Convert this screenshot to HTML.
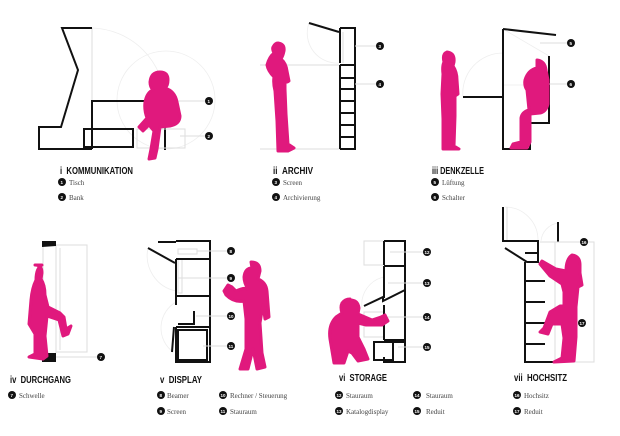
<!DOCTYPE html>
<html><head><meta charset="utf-8">
<style>
html,body{margin:0;padding:0;background:#fff;}
svg{display:block;}
.t{font-family:"Liberation Sans",sans-serif;font-weight:bold;font-size:10px;fill:#111;}
.l{font-family:"Liberation Serif",serif;font-size:7px;fill:#444;}
.n{font-family:"Liberation Sans",sans-serif;font-size:4.5px;fill:#fff;font-weight:bold;}
.k{fill:none;stroke:#111;stroke-width:2;}
.g{fill:none;stroke:#ddd;stroke-width:1;}
.gl{fill:none;stroke:#eee;stroke-width:0.8;}
.p{fill:#e0197d;stroke:#e0197d;stroke-width:3;stroke-linejoin:round;}
</style></head><body>
<svg width="620" height="436" viewBox="0 0 620 436" xmlns="http://www.w3.org/2000/svg">
<defs>
<g id="m"><circle r="4" fill="#111"/></g>
</defs>

<!-- Panel i -->
<path class="gl" d="M92,28 A75,75 0 0 1 165,101"/>
<circle class="gl" cx="166" cy="100" r="49"/>
<line class="g" x1="92" y1="28" x2="92" y2="101"/>
<path class="k" d="M92,28 L62,28 L78,70 L61,127 L39,127 L39,149 L92,149"/>
<path class="k" d="M92,149 L92,101 L165,101 L165,150"/>
<rect class="k" x="84" y="129" width="49" height="18" stroke-width="1.5"/>
<rect class="g" x="137" y="129" width="48" height="19" stroke="#ccc"/>
<line class="g" x1="165" y1="101" x2="205" y2="101"/>
<line class="g" x1="180" y1="136" x2="205" y2="136"/>
<path class="p" d="M160,72 q8,0 8,8 q0,6 -3,8 q10,3 12,14 l3,14 q0,8 -10,10 l-10,1 l-3,22 l-2,9 l-6,1 l2,-10 l3,-18 l-5,-6 l-6,6 l-4,-4 l8,-9 q-3,-8 -2,-16 q2,-10 8,-12 q-3,-3 -3,-8 q1,-10 10,-10z"/>
<use href="#m" x="209" y="101"/><text class="n" x="207.5" y="103">1</text>
<use href="#m" x="209" y="136"/><text class="n" x="207.5" y="138">2</text>
<text class="t" x="60" y="174" textLength="73" lengthAdjust="spacingAndGlyphs">i&#160;&#160;KOMMUNIKATION</text>
<use href="#m" x="62" y="182"/><text class="n" x="60.5" y="184">1</text><text class="l" x="69" y="185">Tisch</text>
<use href="#m" x="62" y="197"/><text class="n" x="60.5" y="199">2</text><text class="l" x="69" y="200">Bank</text>

<!-- Panel ii -->
<path class="gl" d="M309,23 A30,30 0 0 0 340,63"/>
<line class="g" x1="260" y1="65" x2="340" y2="65"/>
<line class="g" x1="260" y1="149" x2="340" y2="149"/>
<line class="g" x1="343" y1="32" x2="343" y2="63"/>
<path class="k" d="M309,23 L339,32 M340,28 L355,28 L355,149 L340,149 M340,28 L340,63 M340,65 L340,149"/>
<path class="k" d="M340,65 H355 M340,78 H355 M340,89 H355 M340,101 H355 M340,113 H355 M340,125 H355 M340,137 H355" stroke-width="1.5"/>
<line class="g" x1="355" y1="46" x2="376" y2="46"/>
<line class="g" x1="355" y1="84" x2="376" y2="84"/>
<path class="p" d="M278,43 q7,1 6,8 q-1,5 -3,8 q5,4 6,12 l2,10 q-2,2 -4,0 l0,8 l1,25 l2,30 l6,4 l-6,3 l-10,0 l-1,-30 l-2,-30 q-2,-8 -1,-14 q-6,-6 -7,-12 q2,-8 7,-12 q-2,-4 -1,-6 q2,-4 5,-4z"/>
<use href="#m" x="380" y="46"/><text class="n" x="378.5" y="48">3</text>
<use href="#m" x="380" y="84"/><text class="n" x="378.5" y="86">4</text>
<text class="t" x="273" y="174" textLength="40" lengthAdjust="spacingAndGlyphs">ii&#160;&#160;ARCHIV</text>
<use href="#m" x="276" y="182"/><text class="n" x="274.5" y="184">3</text><text class="l" x="283" y="185">Screen</text>
<use href="#m" x="276" y="197"/><text class="n" x="274.5" y="199">4</text><text class="l" x="283" y="200">Archivierung</text>

<!-- Panel iii -->
<path class="gl" d="M463,97 A40,40 0 0 1 503,53"/>
<path class="gl" d="M503,29 L549,56 M503,85 H549"/>
<path class="k" d="M503,29 L556,35 M503,29 L503,149 L530,149 L530,123 L549,123 L549,56 M463,97 L503,97"/>
<line class="g" x1="540" y1="43" x2="567" y2="43"/>
<line class="g" x1="549" y1="84" x2="567" y2="84"/>
<path class="p" d="M447,52 q8,1 7,10 l-1,4 q4,6 4,14 l1,14 l-3,2 l0,20 l-1,30 l5,3 l-16,0 l0,-30 l-1,-25 l1,-20 q-1,-8 1,-12 q-2,-8 3,-10z"/>
<path class="p" d="M537,60 q8,1 9,10 l2,10 l0,24 q-2,8 -8,9 l-10,1 l0,28 l-3,6 l-16,0 l2,-4 l8,-2 l0,-24 q1,-6 8,-8 l-2,-20 q-3,-4 -2,-10 q3,-10 12,-12z"/>
<use href="#m" x="571" y="43"/><text class="n" x="569.5" y="45">5</text>
<use href="#m" x="571" y="84"/><text class="n" x="569.5" y="86">6</text>
<text class="t" x="432" y="174" textLength="52" lengthAdjust="spacingAndGlyphs">iii DENKZELLE</text>
<use href="#m" x="435" y="182"/><text class="n" x="433.5" y="184">5</text><text class="l" x="442" y="185">Lüftung</text>
<use href="#m" x="435" y="197"/><text class="n" x="433.5" y="199">6</text><text class="l" x="442" y="200">Schalter</text>

<!-- Panel iv -->
<line class="g" x1="43" y1="245" x2="43" y2="353"/>
<line class="g" x1="56" y1="245" x2="56" y2="353"/>
<rect class="g" x="56" y="245" width="31" height="107"/>
<line class="g" x1="60" y1="248" x2="60" y2="350"/>
<path d="M42,241 L56,241 L56,246 L42,247z" fill="#111"/>
<rect x="42" y="353" width="14" height="9" fill="#111"/>
<line class="g" x1="56" y1="357" x2="97" y2="357"/>
<path class="p" d="M35,265 q7,0 7,8 l-1,6 q4,6 4,16 l3,12 l12,6 l4,4 l2,12 l5,-3 l-3,8 l-5,2 l-4,-16 l-12,-4 l-2,20 l2,20 l-4,3 l-14,-2 l6,-3 l0,-20 l-6,-10 l2,-24 q1,-12 5,-20 q0,-12 6,-15z"/>
<use href="#m" x="101" y="357"/><text class="n" x="99.5" y="359">7</text>
<text class="t" x="10" y="383" textLength="61" lengthAdjust="spacingAndGlyphs">iv&#160;&#160;DURCHGANG</text>
<use href="#m" x="12" y="395"/><text class="n" x="10.5" y="397">7</text><text class="l" x="19" y="398">Schwelle</text>

<!-- Panel v -->
<path class="gl" d="M148,248 A36,36 0 0 0 176,291"/>
<path class="gl" d="M176,302 A30,30 0 0 0 173,352"/>
<rect class="g" x="178" y="259" width="4" height="34"/>
<path class="k" d="M158,242 H176 M176,241 H210 V362 H176 V327 M176,259 H210 M176,296 H210 M176,327 H210 M176,259 V263 M176,263 V296 M176,296 V305 M194,311 V324 H178" stroke-width="1.6"/>
<path class="k" d="M148,248 L175,263 M174,327 L172,352 M178,330 H207 V360 H178z" stroke-width="1.5"/>
<rect class="g" x="178" y="249" width="19" height="5"/>
<line class="g" x1="197" y1="251" x2="227" y2="251"/>
<line class="g" x1="178" y1="278" x2="227" y2="278"/>
<line class="g" x1="196" y1="316" x2="227" y2="316"/>
<line class="g" x1="203" y1="346" x2="227" y2="346"/>
<path class="p" d="M251,262 q9,0 9,9 l-2,8 q8,3 9,12 l2,26 l-4,2 l-2,-14 l-3,18 l2,30 l3,14 l-8,2 l-4,-20 l-5,20 l-8,0 l6,-20 l0,-30 l-2,-18 q-10,2 -18,-6 l-2,-4 l4,-6 l4,2 l4,4 q8,-4 12,-2 q-4,-6 -4,-12 q1,-9 8,-9z"/>
<use href="#m" x="231" y="251"/><text class="n" x="229.5" y="253">8</text>
<use href="#m" x="231" y="278"/><text class="n" x="229.5" y="280">9</text>
<use href="#m" x="231" y="316"/><text class="n" x="228.5" y="318">10</text>
<use href="#m" x="231" y="346"/><text class="n" x="228.5" y="348">11</text>
<text class="t" x="160" y="383" textLength="42" lengthAdjust="spacingAndGlyphs">v&#160;&#160;DISPLAY</text>
<use href="#m" x="161" y="395"/><text class="n" x="159.5" y="397">8</text><text class="l" x="167" y="398">Beamer</text>
<use href="#m" x="161" y="411"/><text class="n" x="159.5" y="413">9</text><text class="l" x="167" y="414">Screen</text>
<use href="#m" x="223" y="395"/><text class="n" x="220.5" y="397">10</text><text class="l" x="230" y="398">Rechner / Steuerung</text>
<use href="#m" x="223" y="411"/><text class="n" x="220.5" y="413">11</text><text class="l" x="230" y="414">Stauraum</text>

<!-- Panel vi -->
<rect class="g" x="364" y="241" width="20" height="24"/>
<path class="gl" d="M362,308 A28,28 0 0 1 384,277"/>
<rect class="g" x="364" y="312" width="20" height="25"/>
<path class="k" d="M384,241 H405 V362 H384 V357 M384,241 V265 M384,266 H405 M384,266 V298 M384,305 V340 M384,340 H405" stroke-width="1.6"/>
<path class="k" d="M364,306 L383,297 L383,301 L405,290 M374,342 H393 V360 H374z M393,342 H405" stroke-width="1.4"/>
<line class="g" x1="390" y1="252" x2="423" y2="252"/>
<line class="g" x1="388" y1="283" x2="423" y2="283"/>
<line class="g" x1="388" y1="317" x2="423" y2="317"/>
<line class="g" x1="398" y1="347" x2="423" y2="347"/>
<path class="p" d="M350,300 q8,0 9,8 l-1,6 l14,6 l9,-3 l4,-2 l3,6 l-6,4 l-16,0 l-8,-2 l0,14 l6,12 l4,10 l-10,2 l-6,-8 l-4,-2 l-4,12 l-10,0 l-4,-24 q-2,-14 6,-22 l6,-4 q-2,-6 0,-10 q3,-4 8,-4z"/>
<use href="#m" x="427" y="252"/><text class="n" x="424.5" y="254">12</text>
<use href="#m" x="427" y="283"/><text class="n" x="424.5" y="285">13</text>
<use href="#m" x="427" y="317"/><text class="n" x="424.5" y="319">14</text>
<use href="#m" x="427" y="347"/><text class="n" x="424.5" y="349">15</text>
<text class="t" x="339" y="381" textLength="48" lengthAdjust="spacingAndGlyphs">vi&#160;&#160;STORAGE</text>
<use href="#m" x="339" y="395"/><text class="n" x="336.5" y="397">12</text><text class="l" x="346" y="398">Stauraum</text>
<use href="#m" x="339" y="411"/><text class="n" x="336.5" y="413">13</text><text class="l" x="346" y="414">Katalogdisplay</text>
<use href="#m" x="417" y="395"/><text class="n" x="414.5" y="397">14</text><text class="l" x="426" y="398">Stauraum</text>
<use href="#m" x="417" y="411"/><text class="n" x="414.5" y="413">15</text><text class="l" x="426" y="414">Reduit</text>

<!-- Panel vii -->
<path class="gl" d="M505,207 A33,33 0 0 1 538,240"/>
<path class="gl" d="M541,241 A20,20 0 0 1 558,223"/>
<rect class="g" x="555" y="242" width="39" height="120"/>
<line class="g" x1="507" y1="207" x2="507" y2="241"/>
<path class="k" d="M503,207 V241 H538 V253 L525,253 M505,248 L527,262 H538 V253 M558,222 V242 M525,262 V362 H555 M525,281 H545 M525,302 H545 M525,323 H545 M525,344 H545" stroke-width="1.6"/>
<line class="g" x1="540" y1="242" x2="580" y2="242"/>
<path class="p" d="M572,255 q8,1 8,10 l0,8 l2,12 l-4,2 l-2,20 l0,30 l-2,24 l-20,1 l8,-4 l2,-20 l-2,-14 l-10,0 l-4,10 l-8,-2 l4,-4 l6,-16 l10,-6 l4,0 l0,-14 l-2,-8 l-12,-8 l-10,-12 l2,-3 l14,8 l10,2 q0,-12 6,-16z"/>
<use href="#m" x="584" y="242"/><text class="n" x="581.5" y="244">16</text>
<use href="#m" x="582" y="323"/><text class="n" x="579.5" y="325">17</text>
<text class="t" x="514" y="381" textLength="53" lengthAdjust="spacingAndGlyphs">vii&#160;&#160;HOCHSITZ</text>
<use href="#m" x="517" y="395"/><text class="n" x="514.5" y="397">16</text><text class="l" x="524" y="398">Hochsitz</text>
<use href="#m" x="517" y="411"/><text class="n" x="514.5" y="413">17</text><text class="l" x="524" y="414">Reduit</text>
</svg>
</body></html>
